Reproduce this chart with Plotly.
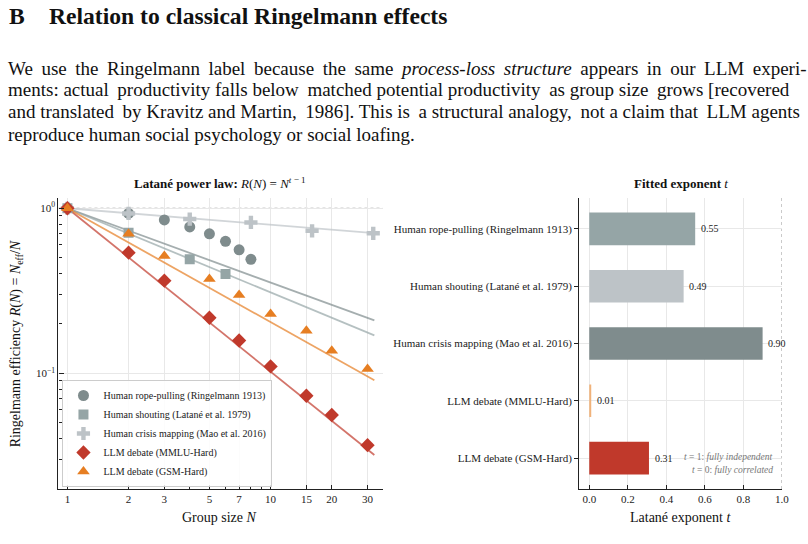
import numpy as np
import plotly.graph_objects as go

# ---------------- data ----------------
rope_N = [1, 2, 3, 4, 5, 6, 7, 8]
rope_R = [1.0, 0.93, 0.85, 0.77, 0.70, 0.63, 0.56, 0.49]
shout_N = [1, 2, 4, 6]
shout_R = [1.0, 0.71, 0.49, 0.40]
crisis_N = [1, 2, 4, 8, 16, 32]
crisis_R = [1.0, 0.93, 0.86, 0.82, 0.73, 0.705]
llm_N = [1, 2, 3, 5, 7, 10, 15, 20, 30]
mmlu_R = [1.0, 0.538, 0.364, 0.217, 0.158, 0.110, 0.0731, 0.0559, 0.0367]
gsm_R = [1.0, 0.70, 0.514, 0.373, 0.298, 0.229, 0.181, 0.137, 0.106]

series_names = ["Human rope-pulling (Ringelmann 1913)",
                "Human shouting (Latané et al. 1979)",
                "Human crisis mapping (Mao et al. 2016)",
                "LLM debate (MMLU-Hard)",
                "LLM debate (GSM-Hard)"]
fit_t = [0.55, 0.49, 0.90, 0.01, 0.31]          # exponent per series (left plot)
bar_labels = series_names
bar_t = [0.55, 0.49, 0.90, 0.01, 0.31]
bar_text = ["0.55", "0.49", "0.90", "0.01", "0.31"]

x_ticks = [1, 2, 3, 5, 7, 10, 15, 20, 30]
x_minor = [4, 6, 8, 9]
y_minor = [0.02, 0.03, 0.04, 0.05, 0.06, 0.07, 0.08, 0.09,
           0.2, 0.3, 0.4, 0.5, 0.6, 0.7, 0.8, 0.9]
bar_xticks = [0.0, 0.2, 0.4, 0.6, 0.8, 1.0]

marker_colors = ["#7f8c8d", "#95a5a6", "#bdc3c7", "#c0392b", "#e67e22"]
line_colors = ["rgba(127,140,141,0.7)", "rgba(149,165,166,0.7)", "rgba(189,195,199,0.7)",
               "rgba(192,57,43,0.7)", "rgba(230,126,34,0.7)"]
bar_colors = ["#95a5a6", "#bdc3c7", "#7f8c8d", "#f0b27a", "#c0392b"]
symbols = ["circle", "square", "cross", "diamond", "triangle-up"]
sizes = [11, 10, 11, 11, 11]

W, H = 808, 544
FONT = "Liberation Serif"


def px(x):
    return x / W


def py(y):
    return 1 - y / H


def justify(line, n_extra):
    """Widen some word gaps with thin spaces to mimic justified text."""
    words = line.split(" ")
    gaps = len(words) - 1
    if n_extra <= 0 or gaps <= 0:
        return line
    n_extra = min(n_extra, gaps)
    idx = set(int(round((i + 0.5) * gaps / n_extra - 0.5)) for i in range(n_extra))
    out = words[0]
    for g in range(gaps):
        out += (" \u2009" if g in idx else " ") + words[g + 1]
    return out


fig = go.Figure()

# fit lines
fit_N = np.geomspace(1, 32.4, 60)
for t, c in zip(fit_t, line_colors):
    fig.add_trace(go.Scatter(x=fit_N, y=fit_N ** (t - 1), mode="lines",
                             line=dict(color=c, width=1.8), showlegend=False,
                             hoverinfo="skip", xaxis="x", yaxis="y"))

data_sets = [(rope_N, rope_R), (shout_N, shout_R), (crisis_N, crisis_R),
             (llm_N, mmlu_R), (llm_N, gsm_R)]
for (n, r), name, col, sym, sz in zip(data_sets, series_names, marker_colors, symbols, sizes):
    fig.add_trace(go.Scatter(x=n, y=r, mode="markers", name=name,
                             marker=dict(symbol=sym, size=sz, color=col, line=dict(width=0)),
                             xaxis="x", yaxis="y"))

# bars
fig.add_trace(go.Bar(x=bar_t, y=bar_labels, orientation="h", width=0.57,
                     marker=dict(color=bar_colors, line=dict(width=0)),
                     showlegend=False, xaxis="x2", yaxis="y2"))

axis_common = dict(showline=True, linecolor="#222", linewidth=1.2, mirror=False,
                   tickfont=dict(family=FONT, size=11, color="#222"),
                   gridcolor="#e8e8e8", gridwidth=1, zeroline=False, tickcolor="#222")

fig.update_layout(
    width=W, height=H, margin=dict(l=0, r=0, t=0, b=0),
    paper_bgcolor="white", plot_bgcolor="white",
    font=dict(family=FONT, color="#222"),
    xaxis=dict(domain=[px(59), px(386)], anchor="y", type="log",
               range=[np.log10(0.904), np.log10(35.6)],
               tickmode="array", tickvals=x_ticks, ticktext=[str(v) for v in x_ticks],
               ticks="inside", ticklen=4, showgrid=True,
               minor=dict(tickmode="array", tickvals=x_minor, ticks="inside", ticklen=3,
                          tickcolor="#222", showgrid=False),
               **axis_common),
    yaxis=dict(domain=[py(489), py(198)], anchor="x", type="log",
               range=[-1.701, 0.062],
               tickmode="array", tickvals=[0.1, 1], ticktext=["10<sup>−1</sup>", "10<sup>0</sup>"],
               ticks="inside", ticklen=5, showgrid=True,
               minor=dict(tickmode="array", tickvals=y_minor, ticks="inside", ticklen=3,
                          tickcolor="#222", showgrid=False),
               **axis_common),
    xaxis2=dict(domain=[px(584.3), px(788.7)], anchor="y2", range=[-0.052, 1.0],
                tickmode="array", tickvals=bar_xticks, tickformat=".1f",
                ticks="inside", ticklen=4, showgrid=True, **axis_common),
    yaxis2=dict(domain=[py(489), py(198)], anchor="x2", type="category",
                range=[4.54, -0.54], ticks="outside", ticklen=4, showgrid=True,
                **axis_common),
    legend=dict(x=px(63), y=py(487), xanchor="left", yanchor="bottom",
                bgcolor="rgba(255,255,255,0.85)", bordercolor="#cccccc", borderwidth=1,
                font=dict(family=FONT, size=10, color="#222"), tracegroupgap=0),
    showlegend=True,
)

# reference lines
fig.add_shape(type="line", xref="x domain", yref="y", x0=0, x1=1, y0=1, y1=1,
              line=dict(color="#888", width=0.8, dash="dot"), layer="below")
fig.add_shape(type="line", xref="x2", yref="y2 domain", x0=1, x1=1, y0=0, y1=1,
              line=dict(color="#888", width=0.8, dash="dot"), layer="below")

ann = []
# heading and paragraph
ann.append(dict(text="<b>B</b>", x=px(7), y=py(16), xanchor="left", yanchor="middle",
                font=dict(size=23.6, family=FONT, color="#111")))
ann.append(dict(text="<b>Relation to classical Ringelmann effects</b>", x=px(47), y=py(16),
                xanchor="left", yanchor="middle", font=dict(size=23.6, family=FONT, color="#111")))
para = ["We use the Ringelmann label because the same <i>process-loss structure</i> appears in our LLM experi-",
        "ments: actual productivity falls below matched potential productivity as group size grows [recovered",
        "and translated by Kravitz and Martin, 1986]. This is a structural analogy, not a claim that LLM agents",
        "reproduce human social psychology or social loafing."]
para_extra = [14, 4, 5, 0]
para_y = [68, 90, 112, 134]
for line, ne, yy in zip(para, para_extra, para_y):
    ann.append(dict(text=justify(line, ne), x=px(6), y=py(yy), xanchor="left", yanchor="middle",
                    font=dict(size=19, family=FONT, color="#111")))

# subplot titles
ann.append(dict(text="<b>Latané power law:</b> <i>R</i>(<i>N</i>) = <i>N</i><sup><i>t</i> − 1</sup>",
                x=px(222), y=py(183), xanchor="center", yanchor="middle",
                font=dict(size=13, family=FONT, color="#111")))
ann.append(dict(text="<b>Fitted exponent</b> <i>t</i>", x=px(686.5), y=py(183),
                xanchor="center", yanchor="middle", font=dict(size=13, family=FONT, color="#111")))
# axis titles
ann.append(dict(text="Group size <i>N</i>", x=px(221), y=py(517), xanchor="center", yanchor="middle",
                font=dict(size=14, family=FONT, color="#111")))
ann.append(dict(text="Latané exponent <i>t</i>", x=px(686.5), y=py(517), xanchor="center",
                yanchor="middle", font=dict(size=14, family=FONT, color="#111")))
ann.append(dict(text="Ringelmann efficiency <i>R</i>(<i>N</i>) = <i>N</i><sub>eff</sub>/<i>N</i>",
                x=px(17), y=py(343.5), xanchor="center", yanchor="middle", textangle=-90,
                font=dict(size=14, family=FONT, color="#111")))
# value labels
for lab, v, txt in zip(bar_labels, bar_t, bar_text):
    ann.append(dict(text=txt, x=v + 0.02, y=lab, xref="x2", yref="y2", xanchor="left",
                    yanchor="middle", showarrow=False, font=dict(size=10, family=FONT, color="#222")))
# notes
ann.append(dict(text="<i>t</i> = 1: <i>fully independent</i>", x=px(782), y=py(457),
                xanchor="right", yanchor="middle", font=dict(size=9.5, family=FONT, color="#777")))
ann.append(dict(text="<i>t</i> = 0: <i>fully correlated</i>", x=px(782), y=py(470),
                xanchor="right", yanchor="middle", font=dict(size=9.5, family=FONT, color="#777")))

for a in ann:
    a.setdefault("xref", "paper")
    a.setdefault("yref", "paper")
    a.setdefault("showarrow", False)
fig.update_layout(annotations=ann)

fig.write_html("out.html")
